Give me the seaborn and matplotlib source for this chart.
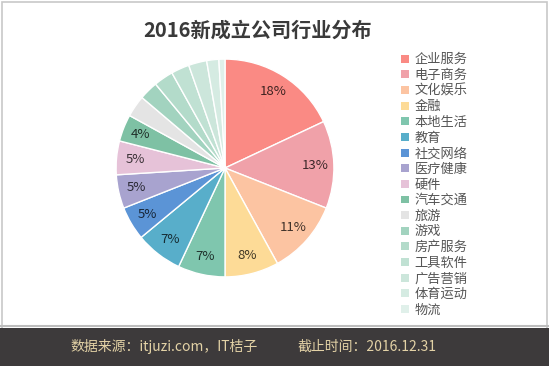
import matplotlib
matplotlib.use("Agg")
import matplotlib.pyplot as plt
import matplotlib.patches as mpatches
import seaborn as sns
import numpy as np

industries = ['企业服务', '电子商务', '文化娱乐', '金融', '本地生活', '教育', '社交网络',
              '医疗健康', '硬件', '汽车交通', '旅游', '游戏', '房产服务', '工具软件',
              '广告营销', '体育运动', '物流']
shares = [18, 13, 11, 8, 7, 7, 5, 5, 5, 4, 3.2, 2.8, 2.9, 2.7, 2.7, 1.8, 0.9]
slice_colors = ['#FA8A84', '#F0A1A9', '#FCC4A2', '#FDDB97', '#7FC6AE', '#58AECA', '#5B94D6',
                '#A8A3CF', '#E6C2D8', '#7EC1A4', '#E4E4E4', '#A2D3BF', '#B3DBCA', '#C0E1D3',
                '#CCE6DB', '#D5EBE2', '#E0F0EA']

title = '2016新成立公司行业分布'
source_note = '数据来源：itjuzi.com，IT桔子'
date_note = '截止时间：2016.12.31'

sns.set_theme(style="white")
plt.rcParams['font.family'] = ['Noto Sans CJK SC', 'DejaVu Sans']

palette = sns.color_palette(slice_colors)

fig = plt.figure(figsize=(5.49, 3.66), dpi=100)
fig.patch.set_facecolor('white')

# outer frame and footer band
fig.add_artist(mpatches.Rectangle((0.003, 0.005), 0.994, 0.99, transform=fig.transFigure,
                                  fill=False, edgecolor='#C8C8C8', linewidth=1.2))
fig.add_artist(mpatches.Rectangle((0, 0), 1, 38 / 366, transform=fig.transFigure,
                                  facecolor='#3D3A3B', edgecolor='none'))
fig.add_artist(plt.Line2D([0, 1], [40 / 366, 40 / 366], transform=fig.transFigure,
                          color='#BDBDBD', linewidth=1.5))

ax = fig.add_axes([(225 - 110) / 549, (366 - 168 - 110) / 366, 220 / 549, 220 / 366])


def pct_label(p):
    return f'{p:.0f}%' if p >= 3.5 else ''


wedges, texts, autotexts = ax.pie(
    shares, colors=palette, startangle=90, counterclock=False,
    autopct=pct_label, pctdistance=0.83,
    wedgeprops=dict(edgecolor='white', linewidth=1),
    textprops=dict(fontsize=9.5))
for w, t in zip(wedges, autotexts):
    r, g, b, _ = w.get_facecolor()
    t.set_color((r * 0.25, g * 0.25, b * 0.25))
ax.set_xlim(-1.01, 1.01)
ax.set_ylim(-1.01, 1.01)
ax.set_aspect('equal')
ax.axis('off')

fig.text(258 / 549, 1 - 30 / 366, title, ha='center', va='center',
         fontsize=14.5, fontweight='bold', color='#3A3A3A')

handles = [mpatches.Patch(facecolor=c, edgecolor='none') for c in palette]
leg = fig.legend(handles, industries, loc='upper left',
                 bbox_to_anchor=(396 / 549, 1 - 48 / 366), frameon=False,
                 fontsize=9.5, handlelength=0.55, handleheight=0.55, handletextpad=0.45,
                 labelspacing=0.2, borderaxespad=0)
for t in leg.get_texts():
    t.set_color('#555555')

fig.text(70 / 549, 19 / 366, source_note, ha='left', va='center', fontsize=10, color='#E3D2A6')
fig.text(297 / 549, 19 / 366, date_note, ha='left', va='center', fontsize=10, color='#E3D2A6')

fig.savefig('out.png', dpi=100)
